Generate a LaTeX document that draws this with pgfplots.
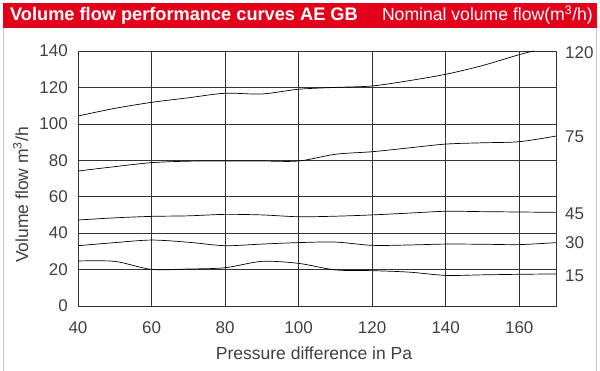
\documentclass[border=0pt]{standalone}
\usepackage{fontspec}
\setmainfont{Liberation Sans}
\usepackage{pgfplots}
\pgfplotsset{compat=1.18}
\definecolor{hdr}{RGB}{226,0,26}
\definecolor{txt}{RGB}{64,64,64}
\begin{document}
\begin{tikzpicture}[x=1pt,y=1pt]
\useasboundingbox (0,0) rectangle (600,371);
\fill[white] (0,0) rectangle (600,371);
\draw[black!20, line width=1pt] (3.5,0) -- (3.5,344) (596.5,0) -- (596.5,344);
\fill[hdr] (3,343) rectangle (597,368);
\node[anchor=base west, text=white, inner sep=0pt, font=\bfseries\fontsize{18.2}{18}\selectfont] at (10,350) {Volume flow performance curves AE GB};
\node[anchor=base east, text=white, inner sep=0pt, font=\fontsize{17.6}{17}\selectfont] at (593,350) {Nominal volume flow(m\textsuperscript{3}/h)};
\begin{axis}[
  at={(78pt,65pt)}, anchor=south west,
  scale only axis, width=478pt, height=255pt,
  xmin=40, xmax=170, ymin=0, ymax=140,
  xtick={40,60,...,160}, ytick={0,20,...,140},
  grid=major,
  grid style={black!80, line width=0.6pt},
  axis line style={black!80, line width=0.6pt},
  major tick length=0pt,
  tick label style={text=txt, font=\fontsize{17}{17}\selectfont, inner sep=0pt},
  /pgf/number format/assume math mode=true,
  yticklabel style={anchor=east, xshift=-10pt},
  xticklabel style={anchor=base, yshift=-28pt},
  clip=true,
]
\addplot[black, line width=0.7pt, smooth] coordinates {(40,104.3)(50,108.5)(60,111.8)(70,114.3)(80,116.8)(90,116.4)(100,119)(110,120)(120,120.8)(130,123.7)(140,127.2)(150,132)(160,138)(164,140)};
\addplot[black, line width=0.7pt, smooth] coordinates {(40,74.1)(50,76.5)(60,78.7)(70,79.5)(80,79.6)(90,79.6)(100,79.6)(110,83.3)(120,84.7)(130,86.8)(140,88.9)(150,89.6)(160,90.2)(170,93.3)};
\addplot[black, line width=0.7pt, smooth] coordinates {(40,47.2)(50,48.4)(60,49.2)(70,49.5)(80,50.3)(90,50)(100,49)(110,49.3)(120,50)(130,51)(140,52)(150,51.8)(160,51.6)(170,51.4)};
\addplot[black, line width=0.7pt, smooth] coordinates {(40,33.1)(50,34.8)(60,36.2)(70,35)(80,33.1)(90,34)(100,34.8)(110,35.1)(120,33.3)(130,33.5)(140,34)(150,33.9)(160,33.7)(170,34.8)};
\addplot[black, line width=0.7pt, smooth] coordinates {(40,24.7)(50,24.5)(60,20.1)(70,20.3)(80,21)(90,24.5)(100,23.4)(110,19.8)(120,19.4)(130,18.6)(140,16.8)(150,17.1)(160,17.4)(170,17.6)};
\end{axis}
\node[rotate=90, anchor=base, inner sep=0pt, text=txt, font=\fontsize{17.5}{17}\selectfont] at (28,176) {Volume flow m\textsuperscript{3}/h};
\node[anchor=base, inner sep=0pt, text=txt, font=\fontsize{17.5}{17}\selectfont] at (314,11) {Pressure difference in Pa};
\begin{scope}[every node/.style={anchor=west, text=txt, font=\fontsize{17}{17}\selectfont, inner sep=0pt}]
\node at (565,318.3) {120};
\node at (565,234.3) {75};
\node at (565,157) {45};
\node at (565,128) {30};
\node at (565,95) {15};
\end{scope}
\end{tikzpicture}
\end{document}
